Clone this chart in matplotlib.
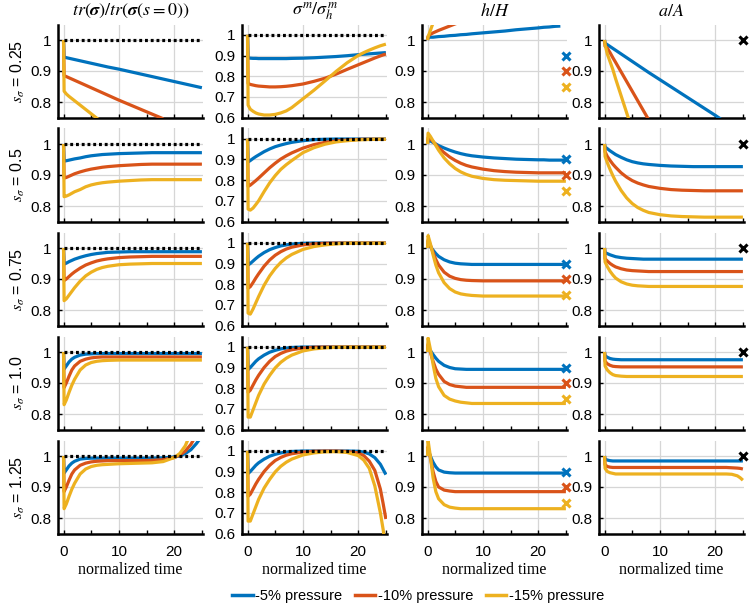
import numpy as np
import matplotlib
matplotlib.use("Agg")
import matplotlib.pyplot as plt
from matplotlib.lines import Line2D
from matplotlib.ticker import FixedLocator

plt.rcParams['font.family'] = ['Liberation Sans', 'DejaVu Sans']
plt.rcParams['mathtext.fontset'] = 'stix'

nan = float('nan')

# normalized time samples
t = [0, 0.1, 0.5, 1, 1.5, 2, 3, 4, 5, 6, 7, 8, 10, 12, 14, 16, 18, 20, 21, 22, 23, 24, 24.5, 25]

s_labels = ['0.25', '0.5', '0.75', '1.0', '1.25']
pressures = ['-5% pressure', '-10% pressure', '-15% pressure']
titles = [r'$tr(\boldsymbol{\sigma})/tr(\boldsymbol{\sigma}(s=0))$',
          r'$\sigma^m/\sigma_h^m$', r'$h/H$', r'$a/A$']
hH_end = [0.95, 0.90, 0.85]   # colored x markers, h/H column
aA_end = 1.0                  # black x marker, a/A column
ref_level = 1.0               # dotted reference line

# ---------- s = 0.25 ----------
tr_025 = [
    [1, .945, .943, .941, .939, .937, .933, .929, .925, .921, .917, .913, .906, .898, .890, .882, .874, .866, .862, .858, .854, .850, .848, .846],
    [1, .885, .882, .878, .874, .870, .862, .854, .846, .838, .830, .822, .806, .791, .776, .761, .746, nan, nan, nan, nan, nan, nan, nan],
    [1, .835, .826, .818, .811, .804, .790, .776, .762, .748, .734, nan, nan, nan, nan, nan, nan, nan, nan, nan, nan, nan, nan, nan]]
sm_025 = [
    [1, .888, .887, .886, .886, .885, .885, .885, .885, .885, .885, .886, .887, .889, .892, .895, .899, .904, .906, .908, .910, .912, .913, .914],
    [1, .765, .760, .757, .754, .752, .750, .748, .748, .749, .751, .754, .762, .775, .790, .810, .833, .855, .866, .877, .888, .898, .903, .907],
    [1, .660, .640, .630, .622, .617, .612, .612, .615, .622, .632, .648, .690, .732, .777, .823, .865, .900, .914, .926, .937, .947, .951, .955]]
hH_025 = [
    [1, 1.008, 1.009, 1.009, 1.010, 1.011, 1.012, 1.014, 1.015, 1.017, 1.018, 1.020, 1.023, 1.026, 1.029, 1.033, 1.036, 1.039, 1.041, 1.042, 1.044, 1.045, nan, nan],
    [1, 1.012, 1.018, 1.023, 1.027, 1.031, 1.038, 1.045, 1.052, 1.058, nan, nan, nan, nan, nan, nan, nan, nan, nan, nan, nan, nan, nan, nan],
    [1, 1.010, 1.030, 1.055, nan, nan, nan, nan, nan, nan, nan, nan, nan, nan, nan, nan, nan, nan, nan, nan, nan, nan, nan, nan]]
aA_025 = [
    [1, .990, .985, .979, .973, .967, .955, .943, .931, .919, .907, .895, .872, .849, .826, .803, .780, .757, .745, nan, nan, nan, nan, nan],
    [1, .980, .974, .959, .943, .928, .897, .866, .835, .804, .773, .742, nan, nan, nan, nan, nan, nan, nan, nan, nan, nan, nan, nan],
    [1, .985, .955, .930, .905, .875, .820, .765, .710, nan, nan, nan, nan, nan, nan, nan, nan, nan, nan, nan, nan, nan, nan, nan]]

# ---------- s = 0.5 ----------
tr_05 = [
    [1, .945, .946, .948, .950, .952, .955, .959, .962, .964, .966, .967, .969, .970, .971, .972, .972, .972, .972, .972, .972, .972, .972, .972],
    [1, .890, .892, .896, .900, .904, .910, .915, .919, .922, .925, .927, .930, .932, .934, .935, .935, .935, .935, .935, .935, .935, .935, .935],
    [1, .830, .832, .836, .841, .846, .853, .862, .868, .872, .875, .877, .880, .882, .884, .885, .885, .885, .885, .885, .885, .885, .885, .885]]
sm_05 = [
    [1, .888, .895, .905, .914, .922, .938, .951, .962, .970, .977, .983, .991, .996, .998, .999, .999, .999, .999, .999, .999, .999, .999, .999],
    [1, .770, .776, .787, .798, .810, .835, .860, .882, .902, .918, .932, .955, .972, .983, .990, .994, .997, .998, .998, .998, .998, .998, .998],
    [1, .660, .655, .665, .682, .700, .745, .787, .822, .852, .875, .895, .933, .957, .974, .985, .991, .995, .996, .997, .998, .998, .998, .998]]
hH_05 = [
    [1, 1.012, 1.010, 1.005, 1.000, .995, .987, .980, .974, .969, .965, .962, .958, .955, .953, .951, .950, .949, .949, .948, .948, .948, .948, .948],
    [1, 1.020, 1.018, 1.008, .998, .988, .972, .958, .947, .938, .931, .926, .919, .914, .911, .909, .908, .907, .907, .907, .907, .907, .907, .907],
    [1, 1.035, 1.025, 1.010, .995, .980, .955, .936, .921, .910, .902, .896, .889, .885, .883, .882, .881, .880, .880, .880, .880, .880, .880, .880]]
aA_05 = [
    [1, .990, .985, .978, .972, .966, .957, .949, .943, .939, .936, .934, .931, .929, .928, .927, .927, .927, .927, .927, .927, .927, .927, .927],
    [1, .975, .960, .947, .935, .925, .907, .893, .882, .874, .868, .863, .857, .853, .851, .850, .849, .849, .849, .849, .849, .849, .849, .849],
    [1, .960, .940, .918, .898, .880, .850, .826, .808, .795, .786, .779, .772, .768, .766, .765, .764, .764, .764, .764, .764, .764, .764, .764]]

# ---------- s = 0.75 ----------
tr_075 = [
    [1, .948, .951, .956, .960, .964, .970, .975, .979, .982, .984, .986, .987, .988, .988, .988, .988, .988, .988, .988, .988, .988, .988, .988],
    [1, .895, .900, .908, .916, .923, .935, .945, .952, .958, .962, .965, .969, .971, .972, .973, .973, .973, .973, .973, .973, .973, .973, .973],
    [1, .830, .836, .848, .860, .872, .893, .910, .922, .931, .937, .941, .946, .948, .949, .950, .950, .950, .950, .950, .950, .950, .950, .950]]
sm_075 = [
    [1, .893, .900, .912, .924, .935, .953, .967, .977, .985, .990, .994, .998, .999, .999, .999, .999, .999, .999, .999, .999, .999, .999, .999],
    [1, .780, .788, .808, .830, .850, .887, .917, .940, .957, .970, .979, .990, .995, .998, .999, .999, .999, .999, .999, .999, .999, .999, .999],
    [1, .660, .655, .680, .710, .740, .795, .840, .876, .905, .927, .944, .968, .982, .990, .995, .998, .998, .998, .998, .998, .998, .998, .998]]
hH_075 = [
    [1, 1.015, 1.005, .993, .982, .973, .962, .955, .951, .949, .948, .947, .947, .947, .947, .947, .947, .947, .947, .947, .947, .947, .947, .947],
    [1, 1.025, 1.010, .985, .963, .945, .922, .909, .902, .898, .896, .895, .894, .894, .894, .894, .894, .894, .894, .894, .894, .894, .894, .894],
    [1, 1.040, 1.015, .978, .945, .920, .888, .869, .858, .852, .849, .847, .845, .845, .845, .845, .845, .845, .845, .845, .845, .845, .845, .845]]
aA_075 = [
    [1, .985, .982, .978, .975, .972, .969, .967, .966, .965, .964, .964, .964, .964, .964, .964, .964, .964, .964, .964, .964, .964, .964, .964],
    [1, .965, .958, .950, .944, .939, .933, .929, .927, .926, .925, .924, .924, .924, .924, .924, .924, .924, .924, .924, .924, .924, .924, .924],
    [1, .955, .940, .925, .913, .903, .891, .884, .880, .878, .877, .876, .876, .876, .876, .876, .876, .876, .876, .876, .876, .876, .876, .876]]

# ---------- s = 1.0 ----------
tr_10 = [
    [1, .945, .955, .968, .977, .983, .990, .993, .994, .995, .995, .995, .995, .995, .995, .995, .995, .995, .995, .995, .995, .995, .995, .995],
    [1, .885, .900, .922, .942, .955, .970, .977, .981, .983, .984, .984, .984, .984, .984, .984, .984, .984, .984, .984, .984, .984, .984, .984],
    [1, .830, .845, .870, .893, .912, .942, .958, .966, .970, .972, .973, .974, .974, .974, .974, .974, .974, .974, .974, .974, .974, .974, .974]]
sm_10 = [
    [1, .890, .900, .915, .930, .942, .960, .974, .983, .990, .994, .997, .999, .999, .999, .999, .999, .999, .999, .999, .999, .999, .999, .999],
    [1, .780, .790, .815, .840, .862, .900, .930, .953, .968, .979, .986, .994, .998, .999, .999, .999, .999, .999, .999, .999, .999, .999, .999],
    [1, .660, .660, .695, .730, .765, .820, .862, .898, .925, .945, .960, .980, .990, .995, .998, .998, .998, .998, .998, .998, .998, .998, .998]]
hH_10 = [
    [1, 1.015, 1.005, .992, .980, .970, .957, .950, .946, .945, .944, .944, .944, .944, .944, .944, .944, .944, .944, .944, .944, .944, .944, .944],
    [1, 1.025, 1.000, .970, .945, .928, .905, .895, .890, .888, .886, .886, .886, .886, .886, .886, .886, .886, .886, .886, .886, .886, .886, .886],
    [1, 1.045, 1.010, .960, .915, .888, .860, .848, .842, .838, .836, .834, .834, .834, .834, .834, .834, .834, .834, .834, .834, .834, .834, .834]]
aA_10 = [
    [1, .988, .983, .979, .977, .976, .975, .975, .975, .975, .975, .975, .975, .975, .975, .975, .975, .975, .975, .975, .975, .975, .975, .975],
    [1, .970, .962, .957, .954, .953, .952, .952, .952, .952, .952, .952, .952, .952, .952, .952, .952, .952, .952, .952, .952, .952, .952, .952],
    [1, .955, .942, .933, .927, .924, .922, .921, .921, .921, .921, .921, .921, .921, .921, .921, .921, .921, .921, .921, .921, .921, .921, .921]]

# ---------- s = 1.25 ----------
tr_125 = [
    [1, .945, .955, .968, .977, .983, .990, .992, .993, .993, .993, .993, .993, .993, .993, .993, .994, .997, 1.000, 1.008, 1.020, 1.040, 1.052, 1.065],
    [1, .885, .900, .922, .942, .955, .970, .977, .981, .983, .984, .985, .985, .985, .985, .986, .988, .995, 1.003, 1.016, 1.037, 1.068, nan, nan],
    [1, .830, .845, .870, .893, .912, .942, .958, .966, .970, .972, .973, .975, .976, .977, .978, .982, .995, 1.008, 1.033, 1.075, nan, nan, nan]]
sm_125 = [
    [1, .890, .900, .915, .930, .942, .960, .974, .983, .990, .994, .997, .999, .999, .999, .999, .999, .998, .994, .985, .967, .935, .910, .885],
    [1, .780, .790, .815, .840, .862, .900, .930, .953, .968, .979, .986, .994, .998, .999, .999, .997, .990, .977, .950, .905, .815, .745, .670],
    [1, .660, .660, .695, .730, .765, .820, .862, .898, .925, .945, .960, .980, .990, .995, .996, .992, .977, .955, .915, .830, .700, .620, .520]]
hH_125 = [
    [1, 1.020, 1.000, .980, .965, .955, .948, .946, .945, .945, .945, .945, .945, .945, .945, .945, .945, .945, .945, .945, .945, .945, .945, .945],
    [1, 1.030, .995, .950, .918, .900, .890, .887, .885, .885, .885, .885, .885, .885, .885, .885, .885, .885, .885, .885, .885, .885, .885, .885],
    [1, 1.050, 1.000, .930, .885, .862, .843, .835, .832, .830, .830, .830, .830, .830, .830, .830, .830, .830, .830, .830, .830, .830, .830, .830]]
aA_125 = [
    [1, .990, .987, .985, .984, .984, .984, .984, .984, .984, .984, .984, .984, .984, .984, .984, .984, .984, .984, .984, .984, .984, .984, .984],
    [1, .972, .966, .964, .963, .963, .963, .963, .963, .963, .963, .963, .963, .963, .963, .963, .963, .963, .963, .963, .962, .961, .960, .958],
    [1, .960, .950, .946, .944, .942, .942, .942, .942, .942, .942, .942, .942, .942, .942, .942, .942, .942, .942, .942, .941, .936, .930, .922]]

panels = [
    [tr_025, sm_025, hH_025, aA_025],
    [tr_05, sm_05, hH_05, aA_05],
    [tr_075, sm_075, hH_075, aA_075],
    [tr_10, sm_10, hH_10, aA_10],
    [tr_125, sm_125, hH_125, aA_125],
]

colors = ['#0072BD', '#D95319', '#EDB120']

W, H = 749, 606
fig = plt.figure(figsize=(W / 100, H / 100), dpi=100)

col_left = [58, 242, 422, 599]
col_w = 145
row_top = [24.5, 128.5, 232.5, 336.5, 440.5]
row_h = 93

for r in range(5):
    for c in range(4):
        ax = fig.add_axes([col_left[c] / W, 1 - (row_top[r] + row_h) / H, col_w / W, row_h / H])
        for k in range(3):
            ax.plot(t, panels[r][c][k], color=colors[k], lw=2.3,
                    solid_joinstyle='round', solid_capstyle='butt', zorder=3)
        if c in (0, 1):
            ax.plot([t[0], t[-1]], [ref_level, ref_level], color='black', lw=2.3,
                    ls=(0, (0.9, 0.9)), zorder=5)
        if c == 2:
            for k in range(3):
                ax.plot([t[-1]], [hH_end[k]], 'x', color=colors[k], ms=5.5, mew=2.2,
                        clip_on=False, zorder=6)
        if c == 3:
            ax.plot([t[-1]], [aA_end], 'x', color='black', ms=5.5, mew=2.2,
                    clip_on=False, zorder=6)
        ax.set_xlim(-1, 25.2)
        if c == 1:
            ax.set_ylim(0.6, 1.05)
            yt = [0.6, 0.7, 0.8, 0.9, 1.0]
            yl = ['0.6', '0.7', '0.8', '0.9', '1']
        else:
            ax.set_ylim(0.75, 1.05)
            yt = [0.8, 0.9, 1.0]
            yl = ['0.8', '0.9', '1']
        ax.set_yticks(yt)
        ax.set_yticklabels(yl)
        ax.set_xticks([0, 10, 20])
        ax.xaxis.set_minor_locator(FixedLocator([5, 15, 25]))
        if r == 4:
            ax.set_xticklabels(['0', '10', '20'])
        else:
            ax.set_xticklabels([])
        for side in ('top', 'right'):
            ax.spines[side].set_visible(False)
        for side in ('left', 'bottom'):
            ax.spines[side].set_linewidth(1.8)
            ax.spines[side].set_color('black')
        ax.tick_params(axis='both', which='both', direction='in', length=3, width=1,
                       labelsize=11, colors='black')
        ax.tick_params(axis='y', pad=5)
        ax.tick_params(axis='x', pad=8)
        ax.set_axisbelow(True)
        ax.grid(True, which='major', color='#d6d6d6', lw=0.9)

# column titles
for c in range(4):
    cx = (col_left[c] + col_w / 2) / W
    fig.text(cx, 1 - 11 / H, titles[c], ha='center', va='center', fontsize=13)
    fig.text(cx, 1 - 570 / H, 'normalized time', ha='center', va='center',
             fontsize=11.5, family='Liberation Serif')

# row labels
for r in range(5):
    cy = 1 - (row_top[r] + row_h / 2) / H
    fig.text(18 / W, cy, r'$s_\sigma$ = ' + s_labels[r], rotation=90,
             ha='center', va='center', fontsize=11.5)

handles = [Line2D([0], [0], color=colors[k], lw=2.5) for k in range(3)]
fig.legend(handles, pressures, loc='center', bbox_to_anchor=(418 / W, 1 - 596 / H),
           ncol=3, frameon=False, handlelength=1.4, handletextpad=0.15,
           columnspacing=0.9, fontsize=10.5)

fig.savefig('out.png', dpi=100)
